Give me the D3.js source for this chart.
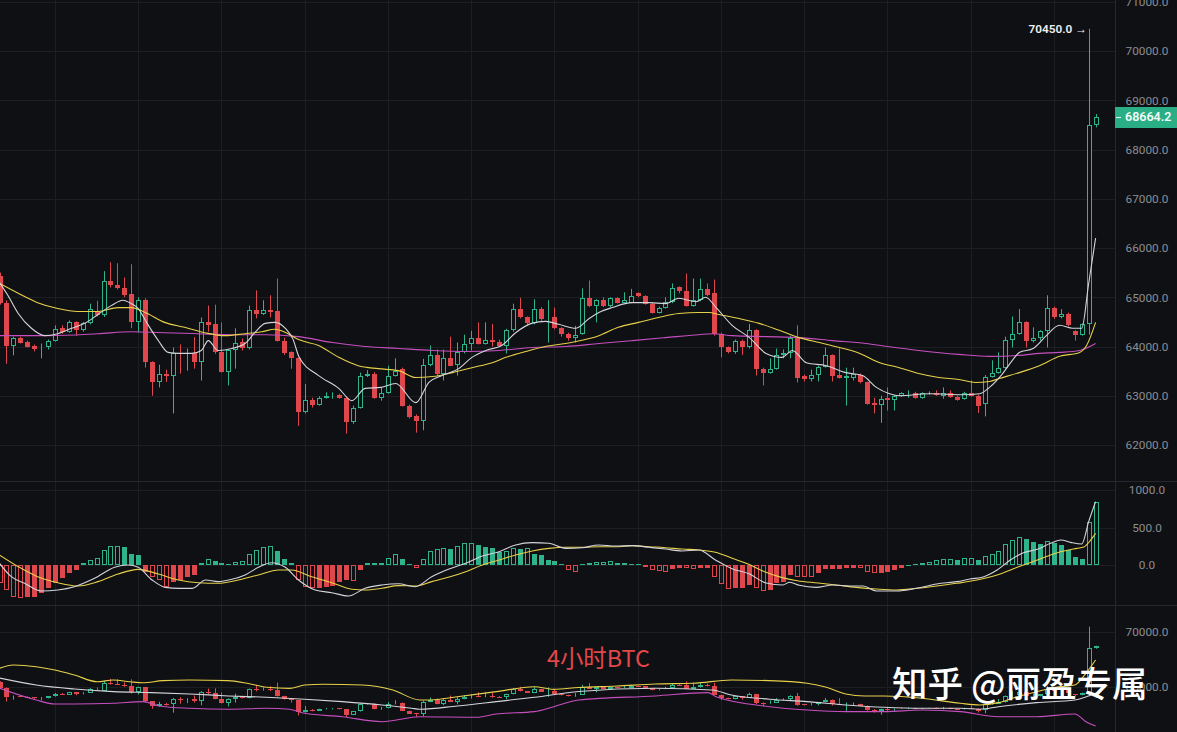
<!DOCTYPE html>
<html><head><meta charset="utf-8">
<script src="https://cdn.jsdelivr.net/npm/d3@7/dist/d3.min.js"></script>
<style>html,body{margin:0;padding:0;background:#0f1013;overflow:hidden}</style>
</head><body>
<svg id="chart" width="1177" height="732"></svg>
<script>
// ---------------- DATA ----------------
const opens = [65440,64880,64020,64180,64100,64020,63960,63980,64120,64370,64290,64490,64330,64470,64730,64630,65340,65240,65180,65060,64490,64940,63680,63270,63450,63410,63860,63840,63860,63680,
64490,64450,63880,63490,63920,64100,63960,64750,64670,64750,64730,64120,63880,63760,62660,62920,62820,62960,63000,63020,62960,62460,62760,63410,63450,62960,63060,63410,63550,62800,
62580,62480,63630,63820,63450,63760,63630,63880,64060,64180,64060,64140,64100,64020,64330,64770,64590,64470,64770,64550,64590,64370,64260,64180,64260,64980,64830,64940,64830,64980,
64890,64890,65080,65020,64870,64690,64790,64900,65200,65120,64830,64940,65160,65080,64260,63980,63880,64120,63980,64330,63550,63470,63550,63820,63860,64180,63410,63350,63430,63590,
63820,63430,63370,63370,63430,63270,62860,62820,62960,62920,63000,63050,63060,62960,63050,63060,63000,63060,62980,62940,63060,63000,62840,63390,63470,63570,64140,64260,64490,64120,
64180,64310,64790,64590,64670,64310,64240,64450,68500];
const highs = [65500,64935,64200,64200,64120,64040,64060,64140,64430,64430,64530,64510,64500,64870,64930,65530,65710,65690,65400,65670,65000,64980,63700,63630,63530,63980,64040,63960,64190,64590,
64830,64850,64490,63940,64370,64160,64830,65140,64940,65040,65380,64180,63900,63780,63240,62960,62990,63070,63070,63040,62980,62800,63470,63520,63480,63160,63610,63760,63570,62820,
62620,63750,64020,63940,63940,64200,64080,64240,64320,64490,64490,64460,64140,64360,64870,64990,64610,64960,64800,64940,64790,64390,64280,64420,65180,65340,64960,65000,65000,65000,
65100,65170,65100,65040,64890,64810,65000,65280,65220,65480,65380,65380,65280,65360,64280,64000,64140,64140,64460,64350,63570,63760,63960,63940,64220,64430,63430,63530,63610,63980,
63840,63960,63570,63570,63450,63290,62960,63000,63170,63020,63070,63110,63080,63070,63090,63110,63170,63110,63000,63080,63310,63020,63420,63720,63880,64200,64610,64760,64510,64390,
64330,65040,64810,64760,64690,64330,64470,70450,68720];
const lows = [64850,63650,63820,64060,63980,63900,63760,63940,64100,64260,64280,64220,64300,64450,64610,64600,65200,65160,65000,64370,64290,63570,63000,63170,63280,62640,63450,63510,63550,63310,
64300,63850,63470,63210,63550,63920,63940,64570,64640,64590,64100,63830,63550,62390,62640,62760,62800,62940,62940,62940,62230,62430,62740,63380,62940,62900,63040,63390,62780,62540,
62250,62300,63600,63400,63310,63600,63410,63860,63920,64040,64040,64000,64000,63860,64300,64570,64430,64450,64520,64080,64350,64200,64120,64080,64240,64800,64490,64800,64800,64870,
64880,64880,65000,64850,64670,64670,64770,64880,65080,64810,64810,64920,65020,64220,63780,63860,63850,63830,63960,63410,63210,63450,63530,63760,63760,63270,63290,63290,63290,63570,
63290,63350,62800,63310,63250,62820,62640,62450,62700,62700,62980,62960,62940,62940,63020,63000,62940,62960,62900,62920,62980,62650,62580,63370,63450,63550,63980,64240,63980,64080,
64120,63980,64560,64570,64410,64120,64220,64240,68450];
const closes = [64880,64020,64180,64080,64000,63940,64000,64120,64350,64290,64490,64330,64470,64770,64630,65340,65240,65180,65040,64490,64940,63680,63270,63450,63410,63860,63840,63860,63680,64490,
64430,63880,63490,63920,64080,63960,64750,64670,64750,64700,64120,63860,63760,62660,62920,62820,62960,63000,63020,62960,62460,62760,63410,63450,62960,63060,63410,63510,62800,62560,
62480,63630,63820,63450,63760,63610,63880,64060,64180,64060,64140,64100,64020,64330,64770,64590,64470,64770,64550,64570,64370,64260,64180,64240,64980,64830,64940,64830,64980,64890,
64950,65020,65020,64870,64690,64790,64900,65180,65120,64830,64940,65160,65040,64260,63980,63880,64120,63980,64330,63550,63470,63550,63820,63860,64180,63370,63350,63430,63590,63820,
63410,63370,63410,63450,63270,62840,62820,62940,62920,63000,63050,63060,62960,63050,63060,63020,63060,62980,62920,63060,63000,62800,63390,63470,63570,64140,64260,64490,64120,64180,
64310,64790,64590,64670,64430,64240,64450,68490,68664.2];

// moving averages on the price panel: [candle index, price]
const maWhite = [[0,65300],[1.2,65040],[2.7,64670],[4.6,64370],[6.5,64220],[8.4,64260],[10.4,64370],[12.3,64470],[14.2,64650],[16.1,64830],[17.8,64940],[19,64870],[20,64770],[21.2,64490],[22.9,64120],[24.3,63880],[25.8,63860],[27.7,63860],[29.1,63920],[30.1,64120],[31.5,63920],[33.5,63960],[35.4,64060],[36.8,64280],[38.3,64470],[39.7,64490],[41.2,64370],[42.3,64150],[43.2,63780],[46,63410],[48.9,63150],[50.8,62900],[52.7,63150],[55,63170],[57.1,63250],[60,62860],[61.9,63270],[63.8,63410],[66.2,63550],[68.1,63780],[70.1,63920],[72.4,64020],[74.4,64280],[76.7,64470],[78.7,64510],[80.6,64450],[83.1,64370],[85,64570],[86.4,64690],[88.3,64790],[91.2,64890],[93.6,64890],[96,64870],[97.9,64980],[100.4,64910],[101.8,65000],[103.3,64790],[105.6,64430],[108.1,64180],[110.5,63860],[112.8,63780],[114.3,63920],[116.3,63670],[119.2,63610],[122,63470],[124.4,63410],[126.4,63170],[128.3,63040],[129.7,63000],[134,63040],[138.8,63020],[141.3,63040],[142.7,63170],[144.6,63450],[146,63720],[147,63880],[149,63960],[150.9,64220],[152.8,64430],[154.7,64370],[156,64370],[157,65280],[158,66200]];
const maYellow = [[0,65280],[2.7,65080],[5.5,64890],[8.4,64770],[11.3,64710],[14.2,64710],[17.1,64790],[19,64790],[21,64690],[23.8,64490],[26.7,64390],[29.6,64280],[32.5,64220],[35.4,64260],[37.8,64300],[39.7,64350],[41.6,64260],[43.1,64140],[46,64020],[48.9,63780],[51.7,63610],[54.6,63550],[57.5,63510],[60,63370],[62.4,63390],[65.3,63470],[68.1,63570],[71,63670],[73,63780],[75.9,63900],[78.7,64000],[81.6,64060],[83.1,64100],[86.4,64220],[89.2,64390],[92.1,64490],[95,64590],[97.9,64670],[100.8,64690],[102.3,64690],[103.7,64650],[106.6,64570],[109.5,64470],[112.4,64330],[115.3,64180],[118.2,64080],[121.1,63980],[124,63860],[126.9,63670],[129.7,63570],[132.5,63450],[135.4,63370],[138.3,63330],[140.7,63270],[142.7,63290],[144.1,63350],[147,63470],[149.9,63610],[152.8,63800],[155.7,63880],[156.7,64020],[158,64490]];
const maMagenta = [[0,64220],[7,64220],[14.2,64260],[19,64300],[23.8,64280],[28.6,64260],[33.5,64240],[38.3,64240],[43.1,64200],[48,64080],[52.7,64000],[57.5,63960],[62.4,63920],[67.2,63900],[72,63920],[76.8,63980],[81.6,64000],[86.4,64060],[91.2,64120],[96,64180],[100.8,64240],[102.8,64260],[105.6,64220],[110.5,64200],[115.3,64180],[120.1,64120],[124.9,64060],[128,64000],[132.5,63920],[138.3,63840],[142.7,63800],[147,63820],[149.9,63860],[152.8,63880],[155.7,63920],[158,64060]];

// MACD histogram, one per candle
const macdHist = [-244,-333,-422,-444,-430,-422,-378,-311,-244,-178,-102,-67,22,67,89,200,253,255,244,147,133,-89,-156,-200,-289,-222,-200,-156,-133,22,
80,53,22,18,44,53,147,200,240,250,187,80,22,-200,-289,-311,-305,-289,-285,-222,-200,-210,-67,22,31,33,89,147,80,13,
-44,80,191,213,222,218,253,289,292,267,244,222,178,187,222,220,224,147,140,67,53,13,-67,-89,13,22,44,46,48,31,
22,20,18,-31,-67,-76,-89,-58,-40,-46,-50,-45,-35,-160,-253,-318,-311,-300,-267,-311,-340,-333,-240,-222,-133,-156,-158,-160,-111,-58,
-57,-56,-44,-36,-44,-89,-111,-102,-89,-67,-44,5,13,22,44,67,76,80,67,89,90,67,120,147,191,285,340,373,347,311,
280,324,298,267,205,102,76,578,844];
// DIF / DEA lines: [candle index, value]
const difLine = [[0,22],[1.7,-156],[3.6,-244],[6,-347],[8.4,-333],[10.8,-289],[13.7,-178],[16.6,-31],[18.5,0],[20,-31],[22,-200],[23.9,-298],[25.9,-311],[27.8,-311],[29.7,-200],[31.5,-222],[33.5,-191],[35.4,-133],[37.3,-31],[39.2,31],[41.2,-31],[43.1,-200],[45.5,-333],[47.9,-369],[50.3,-413],[52.7,-311],[55.1,-267],[57.5,-250],[59.9,-289],[62.3,-156],[64.7,-58],[67.2,22],[69.6,120],[72,178],[74.4,267],[76.8,298],[79.2,289],[81.6,222],[84,231],[86.4,267],[88.8,253],[91.2,258],[93.6,236],[96,213],[98.4,187],[100.8,200],[103.2,67],[105.6,-50],[108.1,-120],[110.5,-240],[112.9,-267],[113.9,-230],[115.3,-270],[117.7,-298],[120.1,-267],[122.5,-280],[124.5,-280],[126.4,-347],[129.3,-347],[132.2,-311],[135.1,-253],[138,-222],[139.9,-187],[141.9,-156],[143.8,-67],[145.7,67],[147.6,164],[149.6,209],[151.5,289],[153,333],[154.4,302],[156,280],[157,578],[158,844]];
const deaLine = [[0,133],[2.7,-22],[5.5,-156],[8.4,-236],[11.3,-280],[14.2,-222],[17.1,-120],[20,-58],[22.9,-120],[25.8,-200],[28.7,-236],[31.5,-244],[34.4,-200],[37.3,-133],[40.2,-67],[42.1,-67],[45,-156],[47.9,-236],[50.8,-324],[52.7,-333],[55.1,-311],[57.5,-275],[59.9,-280],[62.3,-222],[64.7,-164],[67.2,-89],[69.6,0],[72,67],[74.4,133],[76.8,187],[79.2,222],[81.6,236],[84,236],[86.4,244],[88.8,244],[91.2,258],[93.6,244],[96,231],[98.4,213],[100.8,200],[103.2,170],[105.6,90],[108,10],[110.3,-90],[112.7,-165],[115,-210],[118,-240],[120.6,-267],[123.5,-298],[126.4,-320],[129.3,-333],[132.2,-311],[135.1,-280],[138,-244],[140.9,-200],[143.8,-133],[146.7,-31],[149.6,67],[152.5,164],[155.3,222],[156.3,240],[157,300],[158,422]];

// bands on the lower panel: [candle index, price]
const bandUpper = [[0,66670],[2,66970],[5.3,66820],[8,66520],[10.8,66060],[14.1,65450],[16.4,65610],[18.8,65450],[20.7,65360],[23.5,65550],[27.4,65610],[32.9,65550],[35.7,65310],[38.5,64950],[41.8,64850],[44,65150],[46.7,65220],[52.3,65150],[56.7,64700],[60.6,63790],[62.1,63790],[66,64090],[71.6,64550],[77.1,65000],[79.9,64760],[83.5,64930],[89,65060],[94.5,65250],[100,65310],[105.5,65610],[111,65550],[116.4,65310],[119.2,64950],[122,64340],[124.7,64150],[127.5,64150],[133,63950],[138.5,63490],[141.3,63340],[144,63550],[146.7,64090],[149.5,64550],[152.2,64950],[155,65150],[156.6,66220],[158,67430]];
const bandMid = [[0,65790],[5.3,65160],[10.8,64790],[16.4,64550],[21.9,64460],[27.4,64340],[33,64160],[38.5,64040],[44,63860],[49.4,63640],[55.1,63340],[59.4,63040],[60.6,62950],[66,63250],[71.6,63640],[77.1,64040],[83.5,64560],[94.5,64860],[102.7,64700],[105.5,64250],[111,63860],[116.4,63640],[122,63340],[127.5,63130],[133,63040],[138.5,63040],[141.3,62950],[144,63180],[149.5,63550],[155,63790],[158,64400]];
const bandLower = [[0,64860],[5.3,63790],[8,63430],[10.8,63430],[16.4,63490],[20.7,63640],[23,63250],[27.4,63040],[33,62950],[38.5,63040],[41.8,62950],[44,62580],[49.4,62270],[55.1,61820],[60.6,62270],[68.8,62220],[71.6,62520],[77.1,62730],[79.9,63180],[83.5,63790],[94.5,64160],[102.1,64460],[103.3,64090],[111,63180],[116.4,62880],[122,62730],[127.5,62730],[133,62880],[138.5,62730],[144,62270],[149.5,62270],[155,62520],[156.6,61820],[158,61430]];

const mainTicks = [62000,63000,64000,65000,66000,67000,68000,69000,70000,71000];
const macdTicks = [0,500,1000];
const subTicks = [65000,70000];
const timeTickIdx = [8,20,32,44,56,68,80,92,104,116,128,140,152];
const lastPrice = 68664.2;
const highMark = 70450.0;
const titleText = "4小时BTC";
const watermarkText = "知乎 @丽盈专属";

// ---------------- STYLE ----------------
const BG = "#0f1013", GRID = "#1c1e22", SEP = "#26282d";
const UP = "#2fb38a", DOWN = "#e0474d";
const C_WHITE = "#d4d4dc", C_YEL = "#e7d04a", C_MAG = "#c64fc0";
const W = 1177, H = 732, plotR = 1115;
const panels = {main:[0,481], macd:[481,605], sub:[605,732]};

const svg = d3.select("#chart");
svg.append("rect").attr("width",W).attr("height",H).attr("fill",BG);

const x = d3.scaleLinear().domain([0,158]).range([-0.5,1095.6]);
const yMain = d3.scaleLinear().domain([62000,70000]).range([445,51]);
const yMacd = d3.scaleLinear().domain([0,1000]).range([565,490]);
const ySub = d3.scaleLinear().domain([65000,70000]).range([686.7,631.7]);
const px = i => Math.round(x(i));
const cr = v => Math.round(v) + 0.5;

const defs = svg.append("defs");
Object.entries(panels).forEach(([k,[t,b]]) => {
  defs.append("clipPath").attr("id","clip-"+k).append("rect").attr("x",0).attr("y",t).attr("width",plotR).attr("height",b-t);
});

// grid
const grid = svg.append("g");
grid.selectAll("line.v").data(timeTickIdx).join("line")
  .attr("x1",d=>cr(x(d))).attr("x2",d=>cr(x(d))).attr("y1",0).attr("y2",H)
  .attr("stroke",GRID).attr("stroke-width",1);
function hGrid(scale, ticks, panel){
  grid.append("g").attr("clip-path",`url(#clip-${panel})`).selectAll("line").data(ticks).join("line")
    .attr("x1",0).attr("x2",plotR).attr("y1",d=>cr(scale(d))).attr("y2",d=>cr(scale(d)))
    .attr("stroke",GRID).attr("stroke-width",1);
}
hGrid(yMain, mainTicks, "main");
hGrid(yMacd, macdTicks, "macd");
hGrid(ySub, subTicks, "sub");
// separators
svg.append("line").attr("x1",0).attr("x2",W).attr("y1",481.5).attr("y2",481.5).attr("stroke",SEP);
svg.append("line").attr("x1",0).attr("x2",W).attr("y1",605.5).attr("y2",605.5).attr("stroke",SEP);
svg.append("line").attr("x1",plotR+0.5).attr("x2",plotR+0.5).attr("y1",0).attr("y2",H).attr("stroke",SEP);

// candles
const idx = d3.range(closes.length);
function drawCandles(scale, panel){
  const g = svg.append("g").attr("clip-path",`url(#clip-${panel})`);
  idx.forEach(i => {
    const o=opens[i], c=closes[i], h=highs[i], l=lows[i];
    const up = c >= o, col = up ? UP : DOWN, cx = px(i);
    const top = Math.round(scale(Math.max(o,c))), bot = Math.round(scale(Math.min(o,c)));
    g.append("line").attr("x1",cx+0.5).attr("x2",cx+0.5)
      .attr("y1",scale(h)).attr("y2",scale(l)).attr("stroke",col).attr("stroke-width",1);
    if (up) {
      const hgt = Math.max(0, bot-top-1);
      g.append("rect").attr("x",cx-1.5).attr("y",top+0.5).attr("width",4).attr("height",hgt)
        .attr("fill",BG).attr("stroke",col).attr("stroke-width",1);
    } else {
      g.append("rect").attr("x",cx-2).attr("y",top).attr("width",5).attr("height",Math.max(1,bot-top))
        .attr("fill",col);
    }
  });
  return g;
}
drawCandles(yMain, "main");

function drawLine(data, scale, color, panel){
  svg.append("path").attr("clip-path",`url(#clip-${panel})`).datum(data)
    .attr("fill","none").attr("stroke",color).attr("stroke-width",1.1)
    .attr("d", d3.line().x(d=>x(d[0])).y(d=>scale(d[1])).curve(d3.curveMonotoneX));
}
drawLine(maMagenta, yMain, C_MAG, "main");
drawLine(maYellow, yMain, C_YEL, "main");
drawLine(maWhite, yMain, C_WHITE, "main");

// MACD histogram
const mg = svg.append("g").attr("clip-path","url(#clip-macd)");
const y0 = Math.round(yMacd(0));
macdHist.forEach((v,i) => {
  const col = v >= 0 ? UP : DOWN;
  const prev = i > 0 ? Math.abs(macdHist[i-1]) : 0;
  const hollow = Math.abs(v) >= prev;
  const yv = Math.round(yMacd(v));
  const top = Math.min(y0,yv), hgt = Math.max(1, Math.abs(yv-y0));
  const cx = px(i);
  if (hollow && hgt > 2) {
    mg.append("rect").attr("x",cx-1.5).attr("y",top+0.5).attr("width",4).attr("height",hgt-1)
      .attr("fill","none").attr("stroke",col).attr("stroke-width",1);
  } else {
    mg.append("rect").attr("x",cx-2).attr("y",top).attr("width",5).attr("height",hgt).attr("fill",col);
  }
});
drawLine(deaLine, yMacd, C_YEL, "macd");
drawLine(difLine, yMacd, C_WHITE, "macd");

// lower panel
drawCandles(ySub, "sub");
drawLine(bandLower, ySub, C_MAG, "sub");
drawLine(bandMid, ySub, C_WHITE, "sub");
drawLine(bandUpper, ySub, C_YEL, "sub");

// axes
const fmt = d3.format(".1f");
function axis(scale, ticks){
  svg.append("g").attr("transform",`translate(${plotR},0)`)
    .call(d3.axisRight(scale).tickValues(ticks).tickFormat(fmt).tickSize(0).tickPadding(0))
    .call(g=>g.select(".domain").remove())
    .call(g=>g.selectAll("text").attr("x",32).attr("text-anchor","middle")
      .attr("fill","#8a8d94").style("font-size","11.8px").style("font-family","Roboto, 'Noto Sans', sans-serif"));
}
axis(yMain, mainTicks);
axis(yMacd, macdTicks);
axis(ySub, subTicks);

// last price tag
const ty = yMain(lastPrice);
svg.append("rect").attr("x",plotR).attr("y",Math.round(ty)-10).attr("width",W-plotR).attr("height",21).attr("fill","#2aae86");
svg.append("line").attr("x1",plotR+1).attr("x2",plotR+6).attr("y1",Math.round(ty)+0.5).attr("y2",Math.round(ty)+0.5).attr("stroke","#e8f5ef");
svg.append("text").attr("x",1125).attr("y",ty+4.5).attr("fill","#f2fbf6")
  .style("font-size","12.5px").style("font-weight","600").style("font-family","Roboto, 'Noto Sans', sans-serif")
  .text(fmt(lastPrice));

// high marker
svg.append("text").attr("x",px(157)-2).attr("y",yMain(highMark)+4).attr("text-anchor","end").attr("fill","#f0f0f0")
  .style("font-size","11.8px").style("font-weight","600").style("font-family","Roboto, 'Noto Sans', sans-serif")
  .text(fmt(highMark)+" →");

// title & watermark
svg.append("text").attr("x",547).attr("y",667).attr("fill","#e2474a")
  .style("font-size","23.4px").style("font-family","'Noto Sans CJK SC', 'Noto Sans', sans-serif")
  .text(titleText);
svg.append("text").attr("x",892).attr("y",697).attr("fill","#ffffff")
  .style("font-size","35.5px").style("font-weight","500").style("font-family","'Noto Sans CJK SC', sans-serif")
  .text(watermarkText);
</script>
</body></html>
